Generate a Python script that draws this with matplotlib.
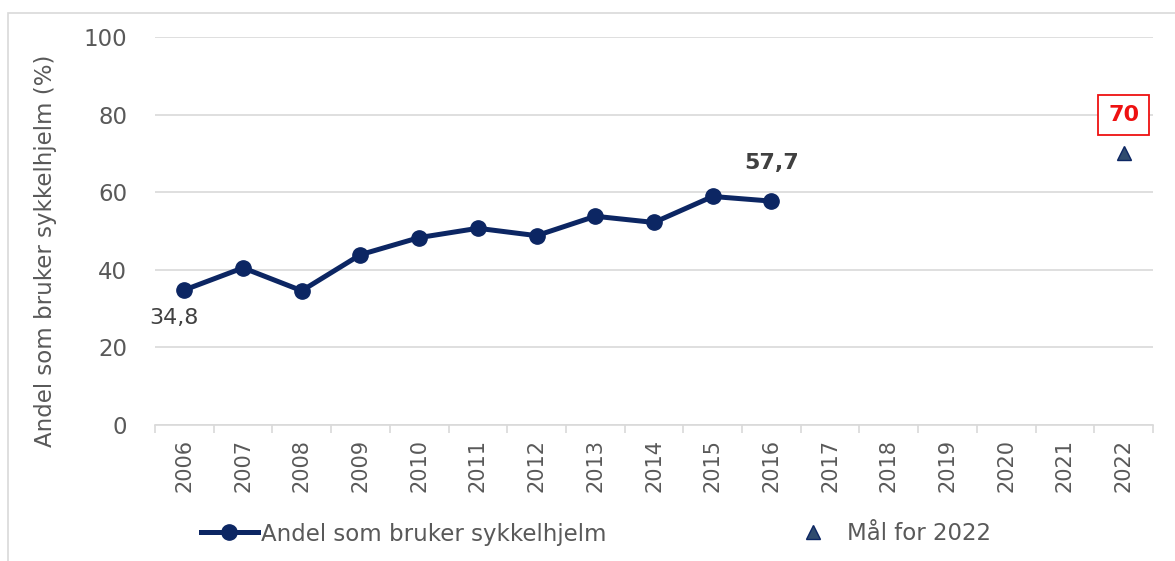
import matplotlib
matplotlib.use("Agg")
import matplotlib.pyplot as plt
from matplotlib.lines import Line2D
from matplotlib.patches import Rectangle

years = [str(y) for y in range(2006, 2023)]
obs_years = [str(y) for y in range(2006, 2017)]
share = [34.8, 40.5, 34.6, 43.9, 48.3, 50.7, 48.8, 53.8, 52.2, 58.9, 57.7]
target_year = "2022"
target_value = 70
yticks = [0, 20, 40, 60, 80, 100]

plt.rcParams['font.family'] = ['DejaVu Sans']
TXT = '#595959'
NAVY = '#0c2663'

fig = plt.figure(figsize=(11.75, 5.61), dpi=100)
fig.patches.append(Rectangle((8/1175, -0.01), 1.1, 1 - 13/561 + 0.01, transform=fig.transFigure,
                             fill=False, edgecolor='#d9d9d9', linewidth=1.2, zorder=0))
ax = fig.add_axes([155/1175, 1 - 425/561, (1153 - 155)/1175, (425 - 37)/561])

xpos = {y: i for i, y in enumerate(years)}
xs = [xpos[y] for y in obs_years]
ax.plot(xs, share, color=NAVY, lw=3.6, marker='o', ms=11, zorder=3)
ax.plot([xpos[target_year]], [target_value], marker='^', ls='none', ms=9.5,
        markerfacecolor='#2f4b6e', markeredgecolor=NAVY, markeredgewidth=1, zorder=3)

ax.set_xlim(-0.5, len(years) - 0.5)
ax.set_ylim(0, 100)
ax.set_yticks(yticks)
ax.set_yticklabels([str(v) for v in yticks])
ax.set_xticks(range(len(years)))
ax.set_xticklabels(years, rotation=90)
ax.set_xticks([i - 0.5 for i in range(len(years) + 1)], minor=True)
ax.tick_params(axis='x', which='major', length=0, pad=10, labelsize=15, labelcolor=TXT)
ax.tick_params(axis='x', which='minor', length=6, color='#d9d9d9', width=1.2)
ax.tick_params(axis='y', length=0, pad=20, labelsize=16.5, labelcolor=TXT)
ax.grid(axis='y', color='#d9d9d9', lw=1.2)
ax.set_axisbelow(True)
for s in ['top', 'right', 'left']:
    ax.spines[s].set_visible(False)
ax.spines['bottom'].set_color('#d9d9d9')
ax.spines['bottom'].set_linewidth(1.2)

ax.set_ylabel('Andel som bruker sykkelhjelm (%)', fontsize=16.5, color=TXT)
ax.yaxis.set_label_coords(-(155 - 57) / 998, (425 - 251) / 388)

ax.annotate('34,8', (xs[0], share[0]), xytext=(-10, -28), textcoords='offset pixels',
            ha='center', va='center', fontsize=16, color='#404040')
ax.annotate('57,7', (xs[-1], share[-1]), xytext=(0, 38), textcoords='offset pixels',
            ha='center', va='center', fontsize=16, color='#404040', fontweight='bold')
ax.annotate(str(target_value), (xpos[target_year], target_value), xytext=(0, 38),
            textcoords='offset pixels', ha='center', va='center', fontsize=16,
            color='#ee1111', fontweight='bold',
            bbox=dict(boxstyle='square,pad=0.45', fc='white', ec='#ee1111', lw=1.3))

h1 = Line2D([], [], color=NAVY, lw=3.6, marker='o', ms=11)
h2 = Line2D([], [], ls='none', marker='^', ms=9.5, markerfacecolor='#2f4b6e',
            markeredgecolor=NAVY)
fig.legend([h1], ['Andel som bruker sykkelhjelm'], loc='center left',
           bbox_to_anchor=(180/1175, 1 - 534/561), frameon=False, fontsize=16.5,
           labelcolor=TXT, handlelength=2.5, handletextpad=0.15)
fig.legend([h2], ['Mål for 2022'], loc='center left',
           bbox_to_anchor=(775/1175, 1 - 534/561), frameon=False, fontsize=16.5,
           labelcolor=TXT, handlelength=1.5, handletextpad=0.75)

fig.savefig('out.png', dpi=100)
